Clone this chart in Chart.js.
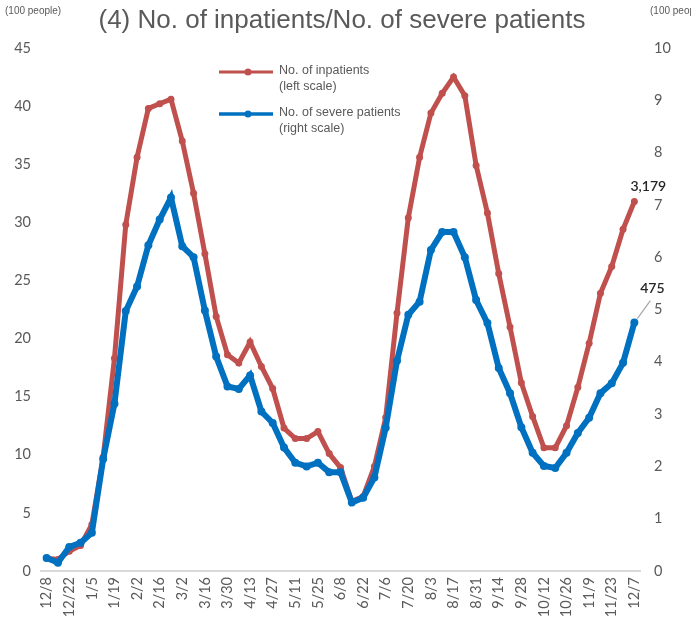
<!DOCTYPE html>
<html>
<head>
<meta charset="utf-8">
<script src="https://cdn.jsdelivr.net/npm/chart.js@4"></script>
<style>
	html, body { margin: 0; padding: 0; background: #fff; }
	#wrap { width: 691px; height: 621px; position: relative; }
</style>
</head>
<body>
<div id="wrap"><canvas id="chart"></canvas></div>
<script>

//weekly dates
var weeks = ['12/8','12/15','12/22','12/29','1/5','1/12','1/19','1/26','2/2','2/9','2/16','2/23',
	'3/2','3/9','3/16','3/23','3/30','4/6','4/13','4/20','4/27','5/4','5/11','5/18','5/25','6/1',
	'6/8','6/15','6/22','6/29','7/6','7/13','7/20','7/27','8/3','8/10','8/17','8/24','8/31','9/7',
	'9/14','9/21','9/28','10/5','10/12','10/19','10/26','11/2','11/9','11/16','11/23','11/30','12/7'];

//no. of inpatients (100 people, left scale)
var inpatients = [1.1, 1.0, 1.7, 2.2, 4.0, 9.8, 18.3, 29.8, 35.6, 39.8, 40.2, 40.6, 37.0,
	32.5, 27.3, 21.9, 18.6, 17.9, 19.7, 17.6, 15.7, 12.3, 11.4, 11.4, 12.0, 10.1, 8.9,
	6.0, 6.4, 9.0, 13.2, 22.2, 30.4, 35.6, 39.4, 41.1, 42.5, 40.9, 34.9, 30.8, 25.6,
	21.0, 16.2, 13.3, 10.6, 10.6, 12.5, 15.8, 19.6, 23.9, 26.2, 29.4, 31.79];

//no. of severe patients (100 people, right scale)
var severe = [0.25, 0.16, 0.46, 0.54, 0.73, 2.14, 3.2, 4.97, 5.44, 6.23, 6.72, 7.14, 6.21,
	6.0, 4.98, 4.1, 3.53, 3.48, 3.74, 3.05, 2.83, 2.36, 2.07, 2.0, 2.07, 1.89, 1.89,
	1.31, 1.4, 1.79, 2.74, 4.02, 4.9, 5.15, 6.14, 6.48, 6.48, 6.0, 5.18, 4.74, 3.88,
	3.4, 2.75, 2.26, 2.01, 1.97, 2.26, 2.64, 2.93, 3.4, 3.59, 3.98, 4.75];

var leftTicks = [0, 5, 10, 15, 20, 25, 30, 35, 40, 45];
var rightTicks = [0, 1, 2, 3, 4, 5, 6, 7, 8, 9, 10];

var RED = '#C0504D',
	BLUE = '#0070C0',
	GREY_TEXT = '#595959';

var TEXT_FONT = '"Liberation Sans", Arial, sans-serif';
var TICK_FONT = 'Lato, "Open Sans", sans-serif';

//titles, legend and end labels
var decorPlugin = {
	id: 'decor',
	afterDraw: function(chart) {
		var ctx = chart.ctx;
		ctx.save();
		ctx.fillStyle = GREY_TEXT;
		ctx.textBaseline = 'middle';

		//unit labels
		ctx.font = '10px ' + TEXT_FONT;
		ctx.textAlign = 'left';
		ctx.fillText('(100 people)', 5, 11);
		ctx.fillText('(100 people)', 650, 11);

		//title
		ctx.font = '26px ' + TEXT_FONT;
		ctx.textAlign = 'center';
		ctx.fillText('(4) No. of inpatients/No. of severe patients', 342, 21);

		//legend
		var items = [
			{ color: RED, width: 3, y: 72, lines: ['No. of inpatients', '(left scale)'] },
			{ color: BLUE, width: 3.5, y: 114, lines: ['No. of severe patients', '(right scale)'] }
		];
		ctx.font = '12.5px ' + TEXT_FONT;
		ctx.textAlign = 'left';
		for ( var n = 0; n < items.length; n++ ) {
			var it = items[n];
			ctx.strokeStyle = it.color;
			ctx.lineWidth = it.width;
			ctx.beginPath();
			ctx.moveTo(219, it.y);
			ctx.lineTo(273, it.y);
			ctx.stroke();
			ctx.fillStyle = it.color;
			ctx.beginPath();
			ctx.arc(248, it.y, 3.5, 0, Math.PI * 2);
			ctx.fill();
			ctx.fillStyle = GREY_TEXT;
			ctx.fillText(it.lines[0], 279, it.y - 1);
			ctx.fillText(it.lines[1], 279, it.y + 15);
		}

		//last value labels
		var last = weeks.length - 1;
		var pRed = chart.getDatasetMeta(1).data[last],
			pBlue = chart.getDatasetMeta(0).data[last];
		ctx.fillStyle = '#262626';
		ctx.font = '600 14px ' + TICK_FONT;
		ctx.textAlign = 'center';
		ctx.fillText(Math.round(inpatients[last] * 100).toLocaleString('en-US'), pRed.x + 14, pRed.y - 15);
		ctx.fillText(String(Math.round(severe[last] * 100)), pBlue.x + 18, pBlue.y - 34);
		//leader line
		ctx.strokeStyle = '#a6a6a6';
		ctx.lineWidth = 1.2;
		ctx.beginPath();
		ctx.moveTo(pBlue.x + 3, pBlue.y - 4);
		ctx.lineTo(pBlue.x + 16, pBlue.y - 22);
		ctx.stroke();

		ctx.restore();
	}
};

var ctx = document.getElementById('chart').getContext('2d');
var chart = new Chart(ctx, {
	type: 'line',
	data: {
		labels: weeks,
		datasets: [{
			label: 'No. of severe patients (right scale)',
			data: severe,
			yAxisID: 'y1',
			borderColor: BLUE,
			backgroundColor: BLUE,
			borderWidth: 6,
			pointRadius: 4,
			pointBorderWidth: 0,
			tension: 0,
			order: 0
		}, {
			label: 'No. of inpatients (left scale)',
			data: inpatients,
			yAxisID: 'y',
			borderColor: RED,
			backgroundColor: RED,
			borderWidth: 5,
			pointRadius: 3.5,
			pointBorderWidth: 0,
			tension: 0,
			order: 1
		}]
	},
	options: {
		responsive: true,
		maintainAspectRatio: false,
		animation: false,
		layout: { padding: { top: 48, left: 0, right: 0, bottom: 0 } },
		plugins: {
			legend: { display: false },
			tooltip: { enabled: false }
		},
		scales: {
			x: {
				offset: true,
				grid: { display: false, drawTicks: false },
				border: { display: true, color: '#d9d9d9', width: 2 },
				ticks: {
					autoSkip: false,
					minRotation: 90,
					maxRotation: 90,
					padding: 6,
					color: GREY_TEXT,
					font: { family: TICK_FONT, size: 14.5 },
					callback: function(val, i) {
						return i % 2 === 0 ? weeks[i] : '';
					}
				},
				afterFit: function(s) { s.height = 50; }
			},
			y: {
				position: 'left',
				min: 0,
				max: 45,
				afterBuildTicks: function(s) {
					s.ticks = leftTicks.map(function(v) { return { value: v }; });
				},
				grid: { display: false, drawTicks: false },
				border: { display: false },
				ticks: {
					padding: 10,
					color: GREY_TEXT,
					font: { family: TICK_FONT, size: 14.5 }
				},
				afterFit: function(s) { s.width = 41; }
			},
			y1: {
				position: 'right',
				min: 0,
				max: 10,
				afterBuildTicks: function(s) {
					s.ticks = rightTicks.map(function(v) { return { value: v }; });
				},
				grid: { display: false, drawTicks: false },
				border: { display: false },
				ticks: {
					padding: 14,
					color: GREY_TEXT,
					font: { family: TICK_FONT, size: 14.5 }
				},
				afterFit: function(s) { s.width = 51; }
			}
		}
	},
	plugins: [decorPlugin]
});
</script>
</body>
</html>
